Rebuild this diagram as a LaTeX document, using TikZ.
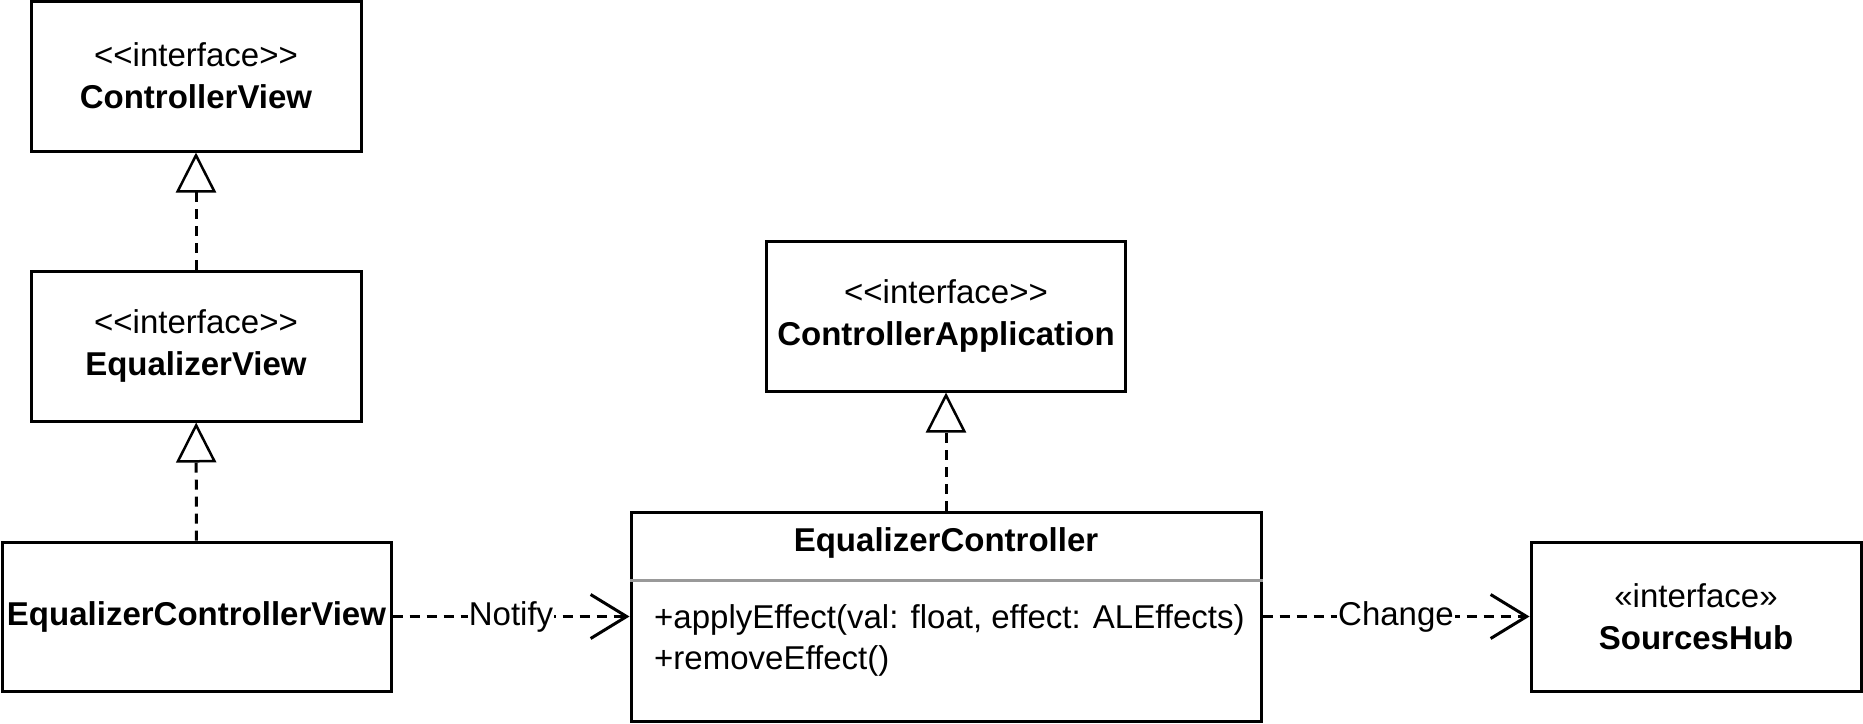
\documentclass[tikz,border=0pt]{standalone}
\usepackage{fontspec}
\setmainfont{Liberation Sans}
\usetikzlibrary{arrows.meta}
\newcommand\ltlt{<\kern0pt<}
\newcommand\gtgt{>\kern0pt>}
\begin{document}
\begin{tikzpicture}[x=1pt,y=-1pt,
  box/.style={draw, line width=3pt, inner sep=0pt, align=center, font=\fontsize{33}{42}\selectfont},
  txt/.style={inner sep=0pt, font=\fontsize{33}{41}\selectfont},
  real/.style={line width=3pt, dash pattern=on 10pt off 7pt, -{Triangle[open,length=40pt,width=40pt,line width=2.5pt]}},
  dep/.style={line width=3pt, dash pattern=on 10pt off 7pt, -{Straight Barb[length=36pt,width=44pt,line width=3pt]}},
  lbl/.style={fill=white, inner sep=1pt, font=\fontsize{33}{40}\selectfont}
]
\useasboundingbox (0,0) rectangle (1863,723);

\node[box, minimum width=330pt, minimum height=150pt] (cv) at (196,76) {\ltlt interface\gtgt\\\textbf{ControllerView}};
\node[box, minimum width=330pt, minimum height=150pt] (ev) at (196,346) {\ltlt interface\gtgt\\\textbf{EqualizerView}};
\node[box, minimum width=389pt, minimum height=149pt] (ecv) at (196.5,616.5) {\textbf{EqualizerControllerView}};
\node[box, minimum width=359pt, minimum height=150pt] (ca) at (946,316) {\ltlt interface\gtgt\\\textbf{ControllerApplication}};
\node[box, minimum width=630pt, minimum height=209pt] (ec) at (946,616.5) {};
\node[box, minimum width=330pt, minimum height=149pt] (sh) at (1696,616.5) {«interface»\\\textbf{SourcesHub}};

\node[txt] (ectitle) at (946,543) {\textbf{EqualizerController}};
\draw[line width=3pt, draw=black!40] (ec.west |- 0,580) -- (ec.east |- 0,580);
\node[txt, anchor=west, align=left] (ecops) at (654,640) {+applyEffect(val: float, effect: ALEffects)\\+removeEffect()};

\draw[real] (ecv) -- (ev);
\draw[real] (ev) -- (cv);
\draw[real] (ec) -- (ca);
\draw[dep] (ecv) -- node[lbl] {Notify} (ec);
\draw[dep] (ec) -- node[lbl] {Change} (sh);
\end{tikzpicture}
\end{document}
